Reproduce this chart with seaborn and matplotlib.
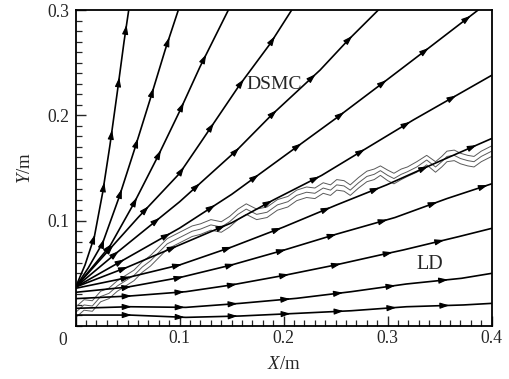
import numpy as np
import matplotlib
matplotlib.use('Agg')
import matplotlib.pyplot as plt
import seaborn as sns
from matplotlib.ticker import MultipleLocator
from matplotlib.transforms import blended_transform_factory

sns.set_style('ticks')
plt.rcParams['font.family'] = ['Liberation Serif', 'DejaVu Serif']
plt.rcParams['mathtext.fontset'] = 'custom'
plt.rcParams['mathtext.rm'] = 'Liberation Serif'
plt.rcParams['mathtext.it'] = 'Liberation Serif:italic'

# ---------------- data ----------------
stream_a_x = [0, 0.009, 0.018, 0.026, 0.033, 0.040, 0.0465, 0.051]
stream_a_y = [0.037, 0.058, 0.085, 0.127, 0.172, 0.222, 0.270, 0.300]
stream_b_x = [0, 0.012, 0.026, 0.042, 0.057, 0.0714, 0.086, 0.0987]
stream_b_y = [0.037, 0.055, 0.079, 0.123, 0.169, 0.2146, 0.262, 0.300]
stream_c_x = [0, 0.033, 0.056, 0.079, 0.1005, 0.1195, 0.1468]
stream_c_y = [0.037, 0.076, 0.1165, 0.161, 0.205, 0.246, 0.300]
stream_d_x = [0, 0.03, 0.06, 0.1, 0.12, 0.157, 0.187, 0.2077]
stream_d_y = [0.037, 0.07, 0.103, 0.145, 0.174, 0.228, 0.268, 0.300]
stream_e_x = [0, 0.04, 0.1, 0.155, 0.188, 0.235, 0.262, 0.291]
stream_e_y = [0.037, 0.07, 0.118, 0.167, 0.2, 0.243, 0.2715, 0.300]
stream_f_x = [0, 0.05, 0.1, 0.15, 0.2, 0.25, 0.299, 0.339, 0.387]
stream_f_y = [0.037, 0.065, 0.093, 0.125, 0.161, 0.197, 0.2335, 0.2636, 0.300]
stream_g_x = [0, 0.05, 0.1, 0.15, 0.19, 0.2365, 0.28, 0.3246, 0.4]
stream_g_y = [0.037, 0.056, 0.077, 0.098, 0.1196, 0.143, 0.169, 0.1956, 0.238]
stream_h_x = [0, 0.05, 0.1, 0.15, 0.2, 0.251, 0.299, 0.3455, 0.4]
stream_h_y = [0.0358, 0.046, 0.058, 0.075, 0.094, 0.115, 0.134, 0.1545, 0.178]
stream_i_x = [0, 0.05, 0.1, 0.15, 0.2, 0.25, 0.307, 0.357, 0.4]
stream_i_y = [0.032, 0.037, 0.046, 0.058, 0.072, 0.087, 0.103, 0.121, 0.135]
stream_j_x = [0, 0.052, 0.106, 0.15, 0.2, 0.25, 0.2926, 0.315, 0.368, 0.4]
stream_j_y = [0.026, 0.0285, 0.0326, 0.039, 0.048, 0.058, 0.0674, 0.0722, 0.0848, 0.0927]
stream_k_x = [0, 0.052, 0.106, 0.158, 0.2125, 0.265, 0.318, 0.371, 0.4]
stream_k_y = [0.0168, 0.0183, 0.0177, 0.0215, 0.0263, 0.0326, 0.0399, 0.0453, 0.0500]
stream_l_x = [0, 0.052, 0.106, 0.158, 0.2125, 0.265, 0.318, 0.373, 0.4]
stream_l_y = [0.0104, 0.0104, 0.0082, 0.0095, 0.012, 0.0145, 0.0183, 0.020, 0.0215]

wave_x = [0, 0.008, 0.016, 0.024, 0.032, 0.04, 0.048, 0.056, 0.064, 0.072, 0.08, 0.088,
          0.096, 0.104, 0.112, 0.12, 0.13, 0.14, 0.148, 0.156, 0.164, 0.174, 0.184, 0.194,
          0.204, 0.2125, 0.222, 0.23, 0.238, 0.245, 0.251, 0.258, 0.264, 0.272, 0.28, 0.287,
          0.293, 0.3, 0.306, 0.313, 0.319, 0.328, 0.3375, 0.346, 0.352, 0.357, 0.364, 0.37,
          0.377, 0.383, 0.39, 0.4]
wave_upper_y = [0.018, 0.025, 0.024, 0.033, 0.036, 0.043, 0.048, 0.053, 0.061, 0.067, 0.075, 0.083,
                0.087, 0.091, 0.095, 0.097, 0.101, 0.099, 0.104, 0.111, 0.116, 0.111, 0.113, 0.120,
                0.123, 0.129, 0.132, 0.131, 0.136, 0.134, 0.139, 0.138, 0.134, 0.141, 0.147, 0.149,
                0.152, 0.148, 0.145, 0.149, 0.151, 0.156, 0.162, 0.156, 0.161, 0.166, 0.167, 0.164,
                0.162, 0.161, 0.166, 0.171]
wave_mid_y = [0.013, 0.020, 0.019, 0.028, 0.031, 0.038, 0.043, 0.048, 0.056, 0.062, 0.070, 0.078,
              0.082, 0.086, 0.090, 0.092, 0.096, 0.094, 0.099, 0.106, 0.111, 0.106, 0.108, 0.115,
              0.118, 0.124, 0.127, 0.126, 0.131, 0.129, 0.134, 0.133, 0.129, 0.136, 0.142, 0.144,
              0.1475, 0.143, 0.140, 0.144, 0.1465, 0.151, 0.1576, 0.151, 0.156, 0.161, 0.162, 0.159,
              0.157, 0.156, 0.161, 0.166]
wave_lower_y = [0.008, 0.015, 0.014, 0.023, 0.026, 0.033, 0.038, 0.043, 0.051, 0.057, 0.065, 0.073,
                0.077, 0.081, 0.085, 0.087, 0.091, 0.089, 0.094, 0.101, 0.106, 0.101, 0.103, 0.110,
                0.113, 0.119, 0.122, 0.121, 0.126, 0.124, 0.129, 0.128, 0.124, 0.131, 0.137, 0.139,
                0.143, 0.138, 0.135, 0.139, 0.142, 0.146, 0.153, 0.146, 0.151, 0.156, 0.157, 0.154,
                0.152, 0.151, 0.156, 0.161]

x_ticks = [0, 0.1, 0.2, 0.3, 0.4]
y_ticks = [0.1, 0.2, 0.3]

streams = [(stream_a_x, stream_a_y), (stream_b_x, stream_b_y), (stream_c_x, stream_c_y),
           (stream_d_x, stream_d_y), (stream_e_x, stream_e_y), (stream_f_x, stream_f_y),
           (stream_g_x, stream_g_y), (stream_h_x, stream_h_y), (stream_i_x, stream_i_y),
           (stream_j_x, stream_j_y), (stream_k_x, stream_k_y), (stream_l_x, stream_l_y)]
waves = [wave_upper_y, wave_mid_y, wave_lower_y]

# ---------------- figure ----------------
fig = plt.figure(figsize=(5.09, 3.79), dpi=100)
ax = fig.add_axes([0.1487, 0.1398, 0.966 - 0.1487, 0.9736 - 0.1398])

for wy in waves:
    sns.lineplot(x=wave_x, y=wy, sort=False, estimator=None, color='#5a5a5a', lw=0.7, ax=ax)
for xs, ys in streams:
    sns.lineplot(x=xs, y=ys, sort=False, estimator=None, color='black', lw=1.2, ax=ax)

ax.set_xlim(0, 0.4)
ax.set_ylim(0, 0.3)

# arrowheads along streamlines, evenly spaced by arc length (pixels)
fig.canvas.draw()
T = ax.transData
Tinv = T.inverted()
spacing = 53.0
for xs, ys in streams:
    pts = T.transform(np.column_stack([xs, ys]))
    d = np.diff(pts, axis=0)
    seg = np.hypot(d[:, 0], d[:, 1])
    cum = np.concatenate([[0], np.cumsum(seg)])
    s = spacing
    while s < cum[-1]:
        i = min(np.searchsorted(cum, s) - 1, len(seg) - 1)
        t = (s - cum[i]) / seg[i]
        p = pts[i] + t * d[i]
        u = d[i] / seg[i]
        tip, tail = Tinv.transform([p + 3 * u, p - 3 * u])
        if 0 < tip[0] < 0.4 and 0 < tip[1] < 0.3:
            ax.annotate('', xy=tip, xytext=tail,
                        arrowprops=dict(arrowstyle='-|>,head_length=0.55,head_width=0.18',
                                        color='black', lw=0.8, shrinkA=0, shrinkB=0,
                                        mutation_scale=10))
        s += spacing

# ticks
ax.xaxis.set_minor_locator(MultipleLocator(0.01))
ax.yaxis.set_minor_locator(MultipleLocator(0.01))
ax.set_xticks(x_ticks)
ax.set_yticks(y_ticks)
ax.set_xticklabels(['' if v == 0 else f'{v:.1f}' for v in x_ticks])
ax.set_yticklabels([f'{v:.1f}' for v in y_ticks])
ax.tick_params(which='major', direction='in', length=7, width=1.0, labelsize=12.7, pad=3,
               top=False, right=False)
ax.tick_params(axis='y', which='major', pad=4.5)
ax.tick_params(which='minor', direction='in', length=4, width=0.9, top=False, right=False)
for sp in ax.spines.values():
    sp.set_linewidth(1.3)
    sp.set_color('black')

ax.annotate('0', xy=(-0.0125, 0), xycoords=blended_transform_factory(ax.transData, ax.transAxes),
            xytext=(0, -4), textcoords='offset points', ha='center', va='top', fontsize=12.7)

ax.set_xlabel(r'$\mathit{X}$/m', fontsize=13.5, labelpad=6)
ax.set_ylabel(r'$\mathit{Y}$/m', fontsize=13.5, labelpad=10)

ax.text(0.1907, 0.229, 'DSMC', fontsize=14, ha='center', va='center')
ax.text(0.34, 0.058, 'LD', fontsize=14.5, ha='center', va='center')

fig.savefig('out.png', dpi=100)
